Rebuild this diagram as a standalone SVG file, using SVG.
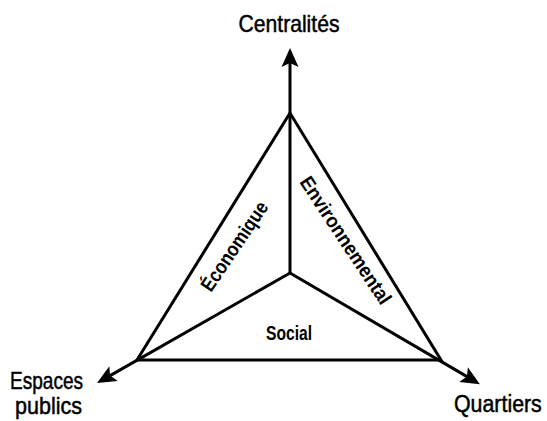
<svg xmlns="http://www.w3.org/2000/svg" width="547" height="421" viewBox="0 0 547 421">
<style>
.edge{fill:none;stroke:#000;stroke-width:3;stroke-linejoin:miter}
.lbl{font-family:"Liberation Sans Narrow","Liberation Sans",Arial,sans-serif;font-size:24px;fill:#000;stroke:#000;stroke-width:0.5}
.in{font-family:"Liberation Sans Narrow","Liberation Sans",Arial,sans-serif;font-size:20px;font-weight:bold;fill:#000}
</style>
<defs>
<marker id="arr" markerUnits="userSpaceOnUse" markerWidth="30" markerHeight="30" viewBox="-15 -15 30 30" refX="0" refY="0" orient="auto">
<path d="M10,0 L-9,-8.5 L-5,0 L-9,8.5 Z" fill="#000"/>
</marker>
</defs>
<rect width="547" height="421" fill="#fff"/>
<g id="connectors">
<polygon class="edge" points="290,113 137,360 441,360"/>
<path class="edge" d="M290,273 L290,58" marker-end="url(#arr)"/>
<path class="edge" d="M290,273 L105.7,378.1" marker-end="url(#arr)"/>
<path class="edge" d="M290,273 L471.3,379.1" marker-end="url(#arr)"/>
</g>
<g id="centralites"><text class="lbl" x="289" y="32" text-anchor="middle" textLength="101" lengthAdjust="spacingAndGlyphs">Centralités</text></g>
<g id="espaces-publics">
<text class="lbl" x="10" y="389" textLength="73" lengthAdjust="spacingAndGlyphs">Espaces</text>
<text class="lbl" x="15" y="414" textLength="67" lengthAdjust="spacingAndGlyphs">publics</text>
</g>
<g id="quartiers"><text class="lbl" transform="translate(454,412) scale(0.89,1)" x="0" y="0">Quartiers</text></g>
<g id="economique"><text class="in" transform="translate(240,250) rotate(-56)" text-anchor="middle" textLength="104" lengthAdjust="spacingAndGlyphs">Économique</text></g>
<g id="environnemental"><text class="in" transform="translate(340,244) rotate(56.5)" text-anchor="middle" textLength="149" lengthAdjust="spacingAndGlyphs">Environnemental</text></g>
<g id="social"><text class="in" x="289" y="340" text-anchor="middle" font-size="19" textLength="46" lengthAdjust="spacingAndGlyphs">Social</text></g>
</svg>
